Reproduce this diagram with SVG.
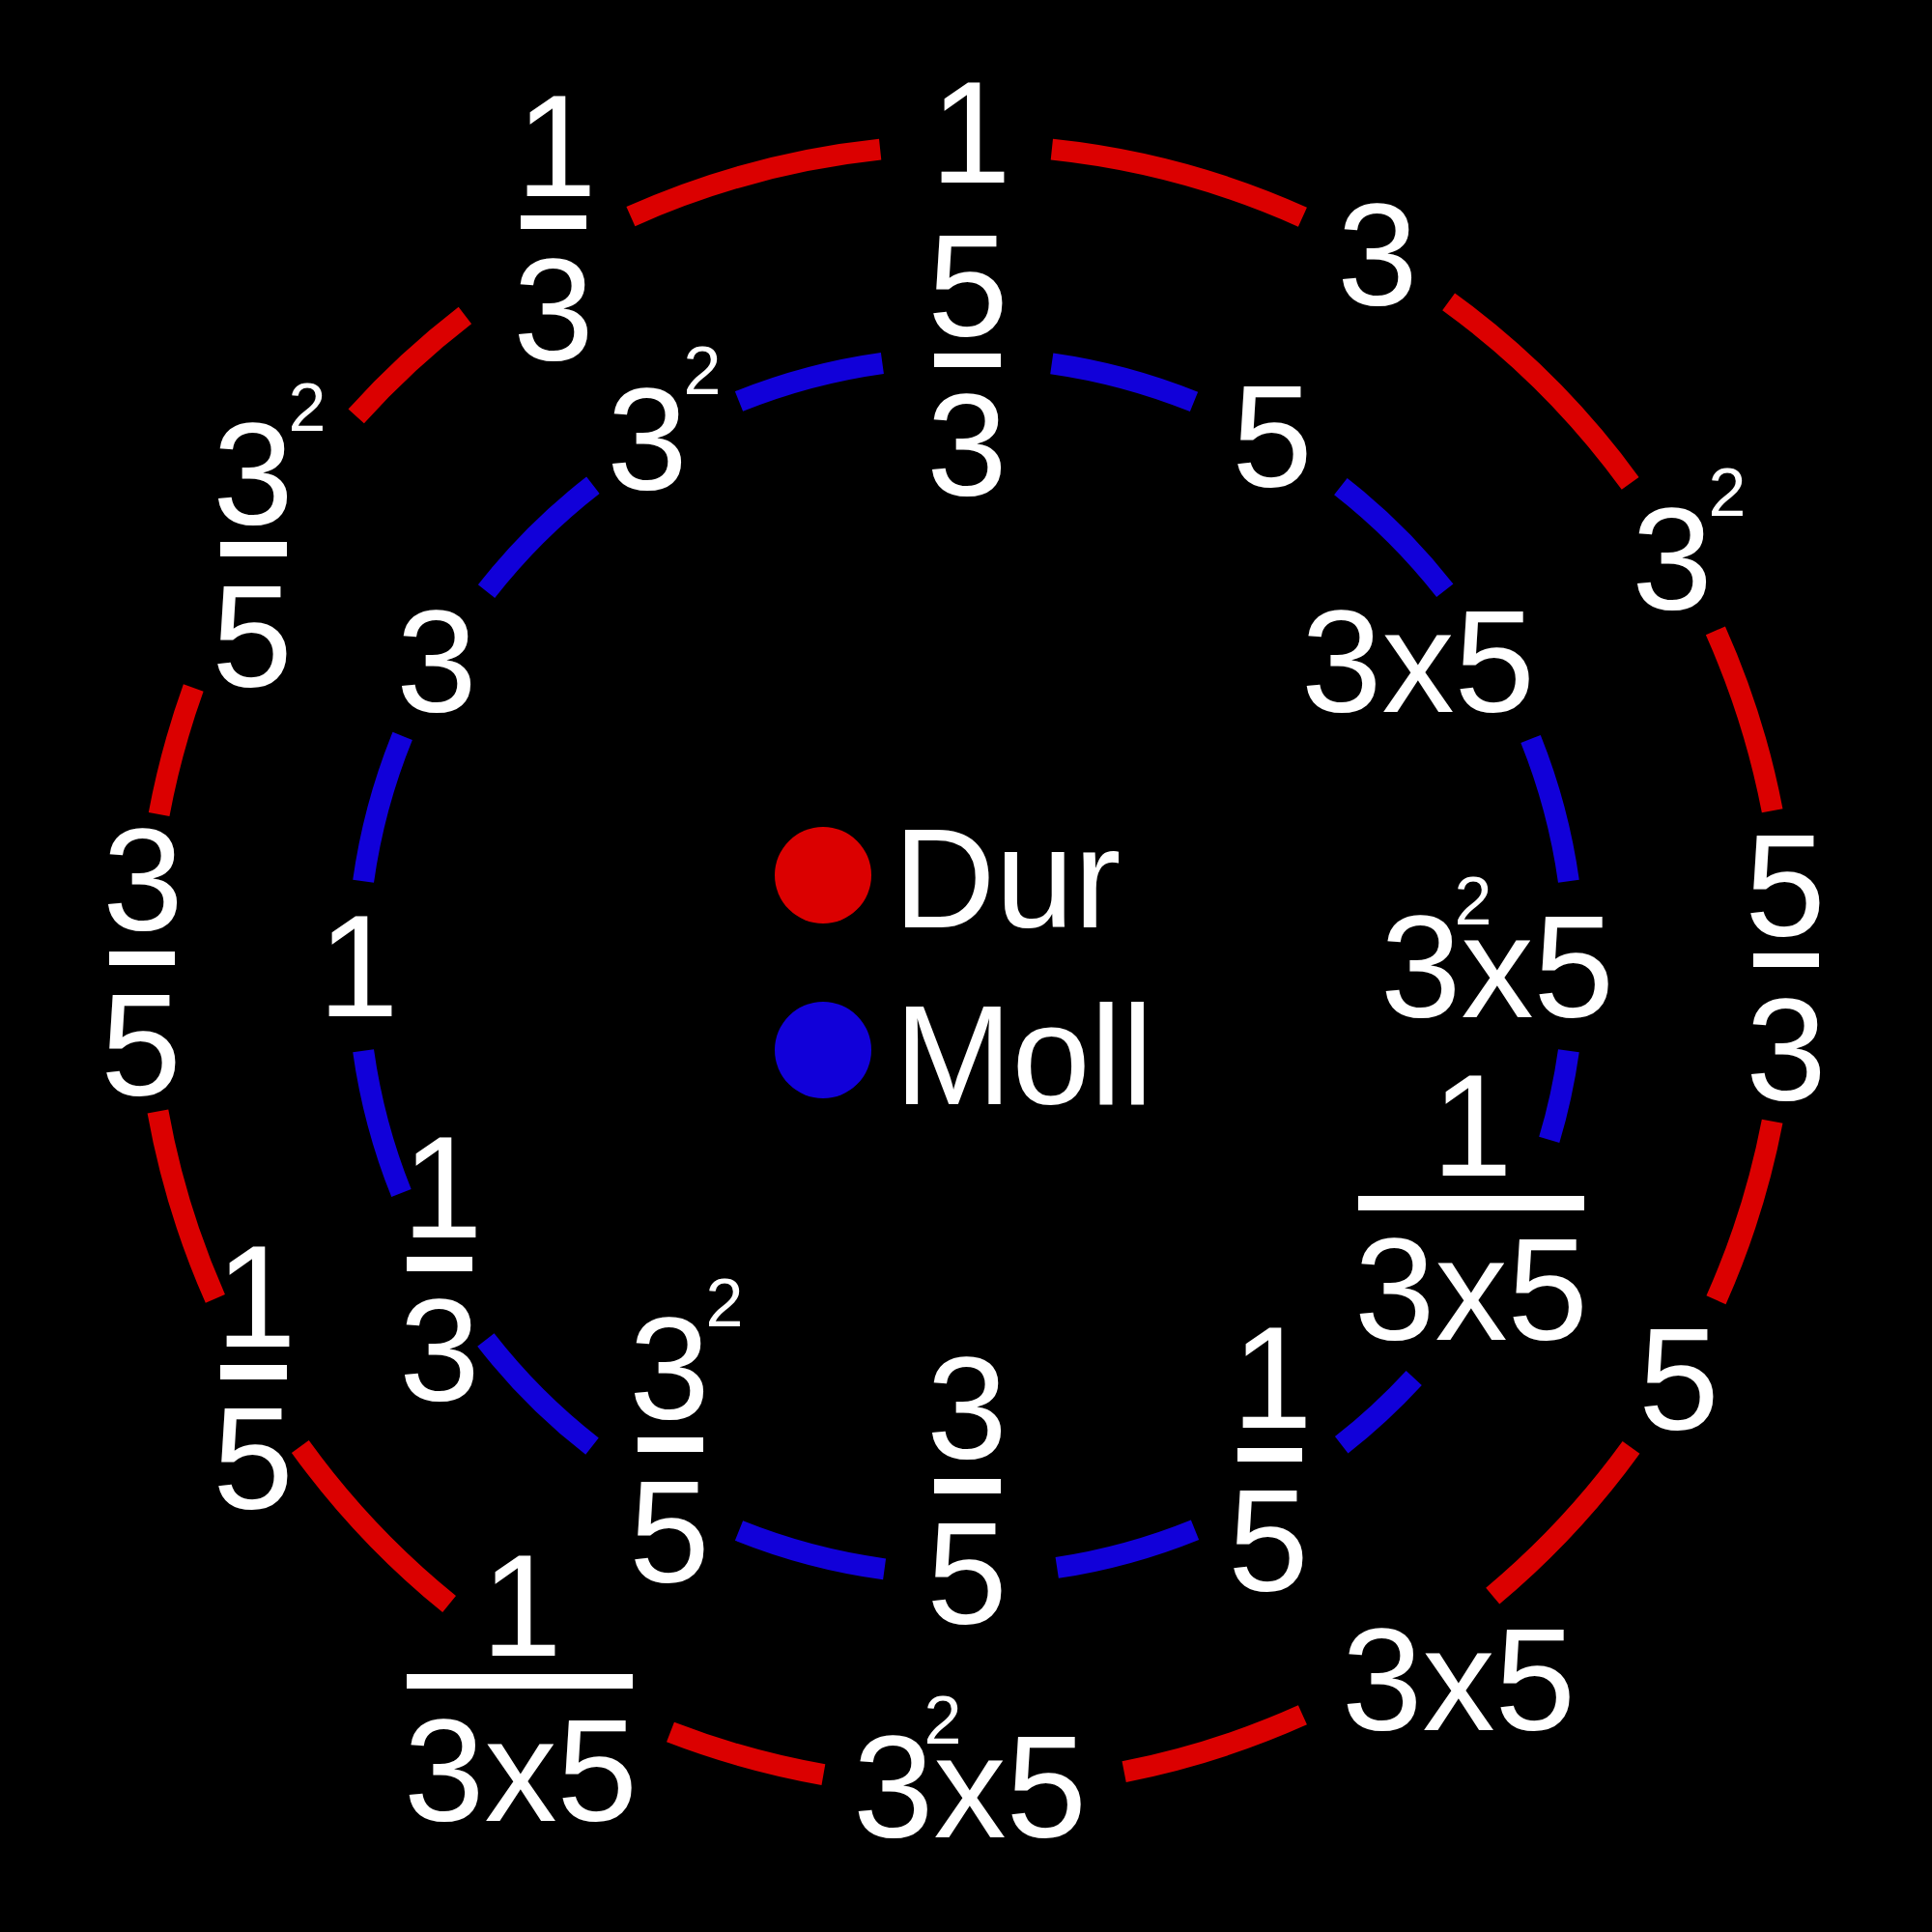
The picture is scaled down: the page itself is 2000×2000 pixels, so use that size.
<svg xmlns="http://www.w3.org/2000/svg" width="2000" height="2000" viewBox="0 0 2000 2000">
<style>
text{font-family:"Liberation Sans",Arial,sans-serif;fill:#fff;text-anchor:middle}
.n{font-size:150px}
.s{font-size:70px}
.lg{font-size:146px;text-anchor:start}
.bar{fill:#fff}
.dur{fill:none;stroke:#DB0000;stroke-width:22}
.moll{fill:none;stroke:#1100D9;stroke-width:22}
</style>
<rect x="0" y="0" width="2000" height="2000" fill="#000"/>
<g id="connectors">
<g id="dur-ring">
<path class="dur" d="M1088.85 154.66 A850 850 0 0 1 1348.43 224.70"/>
<path class="dur" d="M1499.62 312.34 A850 850 0 0 1 1687.66 500.38"/>
<path class="dur" d="M1775.89 652.88 A850 850 0 0 1 1834.67 839.27"/>
<path class="dur" d="M1834.67 1160.73 A850 850 0 0 1 1776.51 1345.73"/>
<path class="dur" d="M1688.54 1498.42 A850 850 0 0 1 1545.23 1652.09"/>
<path class="dur" d="M1348.43 1775.30 A850 850 0 0 1 1163.64 1834.10"/>
<path class="dur" d="M852.40 1837.09 A850 850 0 0 1 694.00 1793.01"/>
<path class="dur" d="M465.08 1660.57 A850 850 0 0 1 310.80 1497.49"/>
<path class="dur" d="M222.88 1344.37 A850 850 0 0 1 163.43 1150.52"/>
<path class="dur" d="M164.64 842.91 A850 850 0 0 1 200.25 712.07"/>
<path class="dur" d="M368.71 430.81 A850 850 0 0 1 481.38 326.55"/>
<path class="dur" d="M652.92 224.09 A850 850 0 0 1 911.15 154.66"/>
</g>
<g id="moll-ring">
<path class="moll" d="M1088.77 376.28 A630 630 0 0 1 1236.00 415.87"/>
<path class="moll" d="M1387.87 503.55 A630 630 0 0 1 1495.77 611.27"/>
<path class="moll" d="M1584.54 764.99 A630 630 0 0 1 1623.87 912.32"/>
<path class="moll" d="M1623.87 1087.68 A630 630 0 0 1 1603.74 1179.98"/>
<path class="moll" d="M1463.74 1426.43 A630 630 0 0 1 1388.73 1495.77"/>
<path class="moll" d="M1237.02 1583.71 A630 630 0 0 1 1094.21 1622.92"/>
<path class="moll" d="M915.59 1624.32 A630 630 0 0 1 764.99 1584.54"/>
<path class="moll" d="M613.00 1497.12 A630 630 0 0 1 502.88 1387.00"/>
<path class="moll" d="M415.46 1235.00 A630 630 0 0 1 376.13 1087.68"/>
<path class="moll" d="M376.13 912.32 A630 630 0 0 1 416.70 761.96"/>
<path class="moll" d="M503.55 612.13 A630 630 0 0 1 613.87 502.20"/>
<path class="moll" d="M764.99 415.46 A630 630 0 0 1 913.41 375.98"/>
</g>
</g>
<g id="dur-1"><text class="n" x="1005" y="189">1</text></g>
<g id="dur-3"><text class="n" x="1426" y="316">3</text></g>
<g id="dur-3sq"><text class="n" x="1731" y="631">3</text><text class="s" x="1788" y="534">2</text></g>
<g id="dur-5over3"><text class="n" x="1848" y="969">5</text><rect class="bar" x="1815" y="987" width="68" height="14"/><text class="n" x="1849" y="1139">3</text></g>
<g id="dur-5"><text class="n" x="1738" y="1480">5</text></g>
<g id="dur-3x5"><text class="n" x="1510" y="1791">3x5</text></g>
<g id="dur-3sqx5"><text class="n" x="1004" y="1902">3x5</text><text class="s" x="976" y="1805">2</text></g>
<g id="dur-1over3x5"><text class="n" x="540" y="1714">1</text><rect class="bar" x="421" y="1733" width="234" height="15"/><text class="n" x="539" y="1885">3x5</text></g>
<g id="dur-1over5"><text class="n" x="265" y="1394">1</text><rect class="bar" x="228" y="1413" width="69" height="15"/><text class="n" x="262" y="1562">5</text></g>
<g id="dur-3over5"><text class="n" x="148" y="963">3</text><rect class="bar" x="113" y="985" width="68" height="14"/><text class="n" x="146" y="1134">5</text></g>
<g id="dur-3sqover5"><text class="n" x="262" y="543">3</text><text class="s" x="318" y="446">2</text><rect class="bar" x="228" y="561" width="69" height="15"/><text class="n" x="261" y="711">5</text></g>
<g id="dur-1over3"><text class="n" x="576" y="203">1</text><rect class="bar" x="539" y="223" width="68" height="14"/><text class="n" x="573" y="373">3</text></g>
<g id="moll-5over3"><text class="n" x="1002" y="348">5</text><rect class="bar" x="967" y="366" width="69" height="14"/><text class="n" x="1001" y="513">3</text></g>
<g id="moll-5"><text class="n" x="1317" y="504">5</text></g>
<g id="moll-3x5"><text class="n" x="1468" y="737">3x5</text></g>
<g id="moll-3sqx5"><text class="n" x="1550" y="1053">3x5</text><text class="s" x="1525" y="957">2</text></g>
<g id="moll-1over3x5"><text class="n" x="1524" y="1217">1</text><rect class="bar" x="1406" y="1238" width="234" height="15"/><text class="n" x="1523" y="1387">3x5</text></g>
<g id="moll-1over5"><text class="n" x="1317" y="1478">1</text><rect class="bar" x="1281" y="1499" width="67" height="14"/><text class="n" x="1313" y="1647">5</text></g>
<g id="moll-3over5"><text class="n" x="1001" y="1510">3</text><rect class="bar" x="967" y="1531" width="69" height="15"/><text class="n" x="1001" y="1681">5</text></g>
<g id="moll-3sqover5"><text class="n" x="693" y="1469">3</text><text class="s" x="750" y="1373">2</text><rect class="bar" x="660" y="1488" width="68" height="15"/><text class="n" x="693" y="1638">5</text></g>
<g id="moll-1over3"><text class="n" x="458" y="1281">1</text><rect class="bar" x="421" y="1301" width="68" height="15"/><text class="n" x="455" y="1450">3</text></g>
<g id="moll-1"><text class="n" x="371" y="1052">1</text></g>
<g id="moll-3"><text class="n" x="452" y="737">3</text></g>
<g id="moll-3sq"><text class="n" x="670" y="507">3</text><text class="s" x="727" y="408">2</text></g>
<g id="legend">
<g id="legend-dur"><circle cx="852" cy="906" r="50" fill="#DB0000"/><text class="lg" x="925" y="960">Dur</text></g>
<g id="legend-moll"><circle cx="852" cy="1087" r="50" fill="#1100D9"/><text class="lg" x="926" y="1143">Moll</text></g>
</g>
</svg>
